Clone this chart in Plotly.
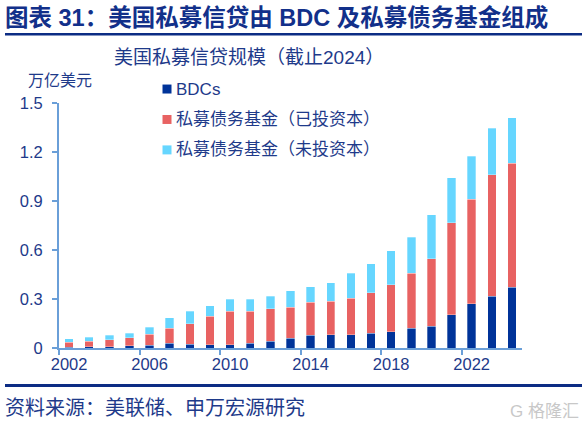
import plotly.graph_objects as go

# data (trillion USD)
years = list(range(2002, 2025))
bdc = [0.005, 0.007, 0.009, 0.013, 0.017, 0.028, 0.023, 0.021, 0.021, 0.029, 0.042, 0.060,
       0.079, 0.081, 0.081, 0.091, 0.099, 0.121, 0.133, 0.204, 0.271, 0.317, 0.372]
invested = [0.031, 0.035, 0.041, 0.049, 0.066, 0.093, 0.127, 0.174, 0.204, 0.196, 0.198, 0.190,
            0.200, 0.206, 0.224, 0.247, 0.288, 0.337, 0.413, 0.563, 0.640, 0.745, 0.760]
dry_powder = [0.022, 0.024, 0.027, 0.027, 0.043, 0.064, 0.074, 0.065, 0.074, 0.074, 0.077, 0.100,
              0.096, 0.113, 0.153, 0.179, 0.208, 0.219, 0.271, 0.275, 0.262, 0.282, 0.278]
series_names = ["BDCs", "私募债务基金（已投资本）", "私募债务基金（未投资本）"]
x_labels = [2002, 2006, 2010, 2014, 2018, 2022]
y_ticks = [0, 0.3, 0.6, 0.9, 1.2, 1.5]

W, H = 587, 429
L, R, T, B = 59, 522, 103, 348.5
TXT = "#1e3a8a"
AX = "#6a9fd8"
COLORS = ["#003399", "#e86262", "#66d6ff"]
FONT = "Liberation Sans, Arial, Noto Sans CJK SC"


def px(x):
    return (x - L) / (R - L)


def py(y):
    return (B - y) / (B - T)


fig = go.Figure()
for name, vals, col in zip(series_names, [bdc, invested, dry_powder], COLORS):
    fig.add_trace(go.Bar(x=years, y=vals, name=name, marker_color=col,
                         marker_line=dict(color="rgba(255,255,255,0.6)", width=0.5)))

fig.update_layout(
    width=W, height=H, barmode="stack", bargap=0.58,
    margin=dict(l=L, r=W - R, t=T, b=H - B),
    paper_bgcolor="white", plot_bgcolor="white",
    font=dict(family=FONT, color=TXT, size=16),
    showlegend=False,
)
fig.update_xaxes(range=[2001.5, 2024.5], tickvals=x_labels, ticks="", showgrid=False,
                 showline=True, linecolor=AX, linewidth=2, zeroline=False,
                 tickfont=dict(size=16.5, color=TXT),
                 minor=dict(tickvals=[2001.5, 2005.5, 2009.5, 2013.5, 2017.5, 2021.5],
                            ticks="outside", ticklen=5, tickcolor=AX, tickwidth=1.5))
fig.update_yaxes(range=[0, 1.5], tickvals=y_ticks, ticktext=["0", "0.3", "0.6", "0.9", "1.2", "1.5"],
                 ticks="outside", ticklen=5, tickcolor=AX, tickwidth=1.5, showgrid=False,
                 showline=True, linecolor=AX, linewidth=2, zeroline=False,
                 ticklabelstandoff=6, tickfont=dict(size=16.5, color=TXT))

# legend drawn by hand so square and text sit as in the original
for i, (name, col) in enumerate(zip(series_names, COLORS)):
    yc = 89 + 30.5 * i
    fig.add_shape(type="rect", xref="paper", yref="paper", x0=px(162.5), x1=px(171.5),
                  y0=py(yc + 4.5), y1=py(yc - 4.5), fillcolor=col, line_width=0)
    fig.add_annotation(text=name, x=px(174), y=py(yc), xanchor="left",
                       font=dict(size=17, color=TXT))

ann = [
    dict(text="<b>图表 31：美国私募信贷由 BDC 及私募债务基金组成</b>", x=px(3), y=py(17),
         xanchor="left", font=dict(size=23.5, color="#12308a")),
    dict(text="美国私募信贷规模（截止2024）", x=px(249), y=py(57),
         font=dict(size=19, color=TXT)),
    dict(text="万亿美元", x=px(60), y=py(80), font=dict(size=16, color=TXT)),
    dict(text="资料来源：美联储、申万宏源研究", x=px(3), y=py(409), xanchor="left",
         font=dict(size=20, color=TXT)),
    dict(text="G 格隆汇", x=px(581), y=py(412), xanchor="right",
         font=dict(size=17, color="#c8c8c8")),
]
for a in ann:
    a.setdefault("xanchor", "center")
    fig.add_annotation(**a)
for a in fig.layout.annotations:
    a.update(xref="paper", yref="paper", showarrow=False, yanchor="middle")

fig.add_shape(type="line", xref="paper", yref="paper", x0=px(5), x1=px(582), y0=py(34), y1=py(34),
              line=dict(color="#0c2c84", width=2.5))
fig.add_shape(type="line", xref="paper", yref="paper", x0=px(5), x1=px(582), y0=py(386), y1=py(386),
              line=dict(color="#0c2c84", width=3))

fig.write_html("out.html", config={"displayModeBar": False},
               post_script="document.body.style.margin='0px';")
